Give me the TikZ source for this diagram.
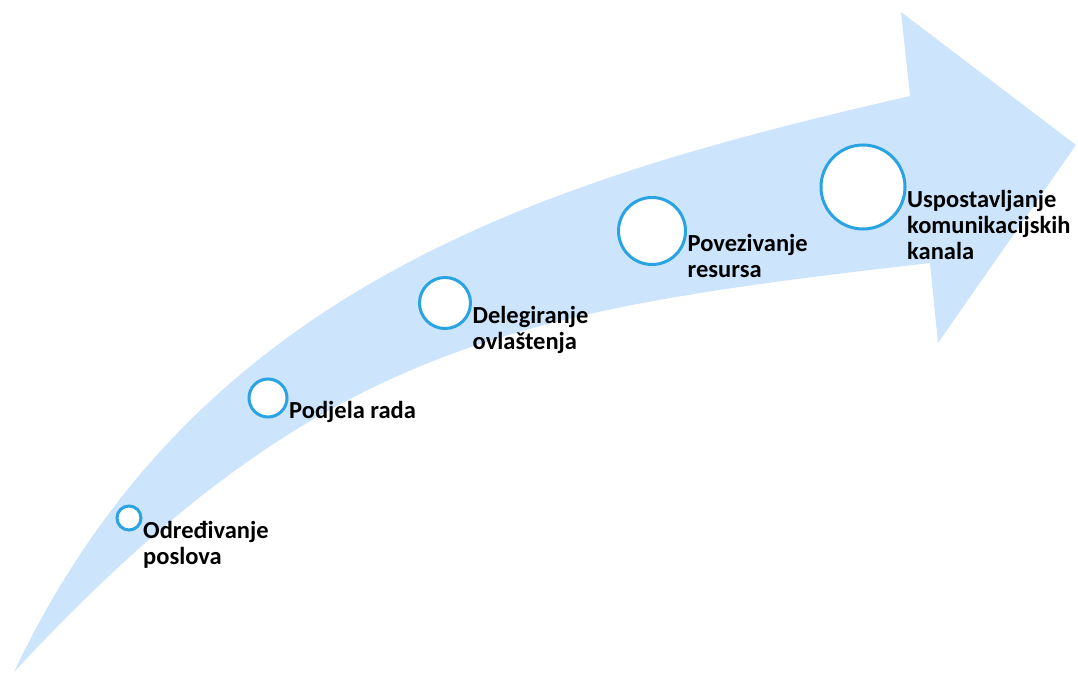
\documentclass[tikz,border=0pt]{standalone}
\usepackage{fontspec}
\setmainfont{Carlito}
\usepackage{tikz}
\usetikzlibrary{shapes}

\definecolor{bandblue}{RGB}{204,228,252}
\definecolor{ringblue}{RGB}{41,163,225}

\tikzset{
  stage/.style={draw=ringblue,circle,line width=3bp,fill=white,inner sep=0pt},
  stagetext/.style={anchor=north west,align=left,inner xsep=0.5bp,inner ysep=0pt,yshift=-3bp,
    font=\fontsize{24.5bp}{26bp}\selectfont\bfseries}
}

\begin{document}
\begin{tikzpicture}
    \useasboundingbox (0bp,0bp) rectangle (1078bp,-674bp);
    % curved band with arrow head
    \fill[bandblue] (14bp,-672bp) .. controls (198bp,-283bp) and (549bp,-179bp) .. (910bp,-96bp)
        -- (901bp,-12bp) -- (1076bp,-145bp) -- (938bp,-343bp) -- (930bp,-263bp)
        .. controls (513bp,-311bp) and (320bp,-343bp) .. cycle;
    \node (C1) at (129bp,-518bp)[stage,minimum size=24bp] {};
    \node (C2) at (268bp,-398bp)[stage,minimum size=38bp] {};
    \node (C3) at (445bp,-303bp)[stage,minimum size=51bp] {};
    \node (C4) at (652bp,-231bp)[stage,minimum size=67bp] {};
    \node (C5) at (863bp,-187bp)[stage,minimum size=84bp] {};
    \node (T1) at (C1.east)[stagetext] {Određivanje\\poslova};
    \node (T2) at (C2.east)[stagetext] {Podjela rada};
    \node (T3) at (C3.east)[stagetext] {Delegiranje\\ovlaštenja};
    \node (T4) at (C4.east)[stagetext] {Povezivanje\\resursa};
    \node (T5) at (C5.east)[stagetext] {Uspostavljanje\\komunikacijskih\\kanala};
\end{tikzpicture}
\end{document}
